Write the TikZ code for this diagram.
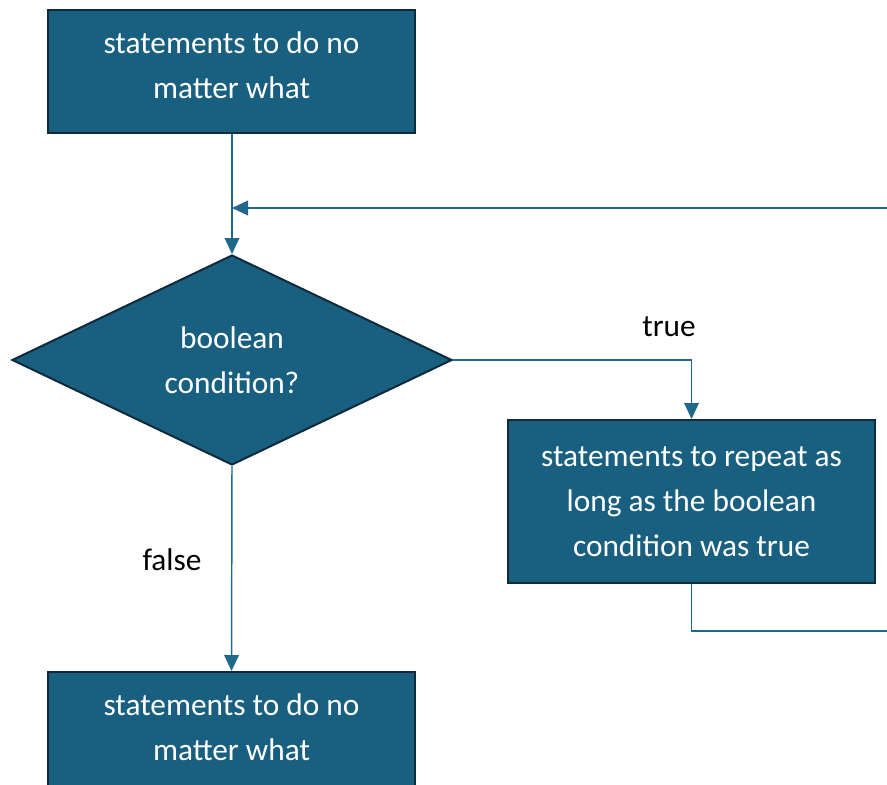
\documentclass[tikz,border=0pt]{standalone}
\usepackage{fontspec}
\setmainfont{Carlito}
\usetikzlibrary{shapes.geometric,arrows.meta}

\definecolor{boxfill}{HTML}{185F80}
\definecolor{boxline}{HTML}{0E2B3B}
\definecolor{flowline}{HTML}{1F6A8C}

\tikzset{
  stepbox/.style={draw=boxline, line width=1.5pt, fill=boxfill, text=white,
    minimum width=275.25pt, minimum height=92.25pt, align=center, inner sep=0pt},
  decision/.style={diamond, draw=boxline, line width=1.5pt, fill=boxfill, text=white,
    minimum width=330pt, minimum height=157.5pt, align=center, inner sep=0pt},
  flow/.style={draw=flowline, line width=1.1pt},
  flowarrow/.style={flow, -{Triangle[width=11pt,length=12pt]}},
  branch/.style={text=black}
}

\begin{document}
\begin{tikzpicture}[x=0.75pt,y=-0.75pt,font=\fontsize{23.5}{33.75}\selectfont]
        \useasboundingbox (0,0) rectangle (887,784);
        \clip (0,0) rectangle (887,784);

        % Boxes and decision
        \node [stepbox, text depth=10pt] (before) at (231.5,71.5) {statements to do no\\matter what};
        \node [decision] (cond) at (232,360) {boolean\\condition?};
        \node [stepbox, minimum height=122.25pt] (body) at (691.5,501.5)
              {statements to repeat as\\long as the boolean\\condition was true};
        \node [stepbox, text depth=10pt] (after) at (231.5,733.5) {statements to do no\\matter what};

        % Helper points for the loop back
        \coordinate (join) at (232,208);
        \coordinate (loopin) at (900,208);
        \coordinate (loopout) at (900,631);

        % Connectors
        \draw [flow] (before.south -| join) -- (join);
        \draw [flowarrow] (join) -- (cond.north);
        \draw [flowarrow] (loopin) -- (join);
        \draw [flowarrow] (cond.east) -| (body.north);
        \draw [flowarrow] (cond.south) -- (after.north);
        \draw [flow] (body.south) |- (loopout);

        % Branch labels
        \node [branch] (truelbl) at (669,327) {true};
        \node [branch] (falselbl) at (172,560) {false};
    \end{tikzpicture}
\end{document}
